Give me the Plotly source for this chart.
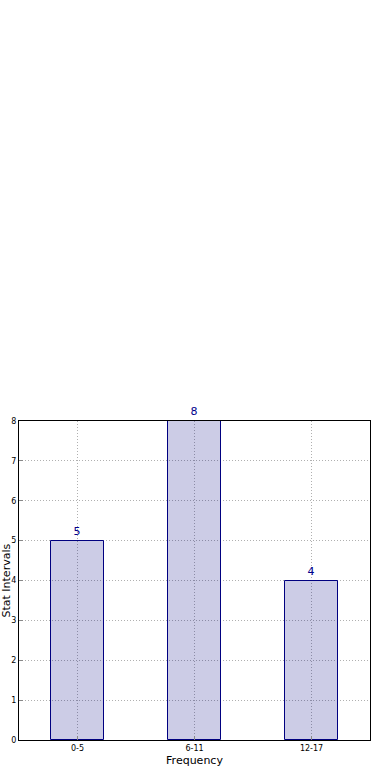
import plotly.graph_objects as go

categories = ["0-5", "6-11", "12-17"]
values = [5, 8, 4]
y_ticks = [0, 1, 2, 3, 4, 5, 6, 7, 8]

fig = go.Figure(go.Bar(
    x=list(range(len(categories))),
    y=values,
    width=0.45,
    marker=dict(color="rgba(0,0,128,0.2)", line=dict(color="#000080", width=1)),
    text=[str(v) for v in values],
    textposition="outside",
    textfont=dict(color="#00008B", size=11, family="DejaVu Sans"),
    cliponaxis=False,
))

fig.update_layout(
    width=390, height=780,
    margin=dict(l=19, r=20, t=421, b=40),
    plot_bgcolor="white", paper_bgcolor="white",
    font=dict(family="DejaVu Sans", color="black"),
    showlegend=False,
    bargap=0,
    annotations=[dict(
        text="Stat Intervals", xref="paper", yref="paper", x=-0.037, y=0.5,
        xanchor="center", yanchor="middle", textangle=-90, showarrow=False,
        font=dict(size=11, family="DejaVu Sans", color="black"),
    )],
)
fig.update_xaxes(
    tickmode="array", tickvals=list(range(len(categories))), ticktext=categories,
    range=[-0.5, 2.5], showline=True, linecolor="black", linewidth=1, mirror=True,
    showgrid=True, gridcolor="#b0b0b0", griddash="1px,2px", gridwidth=1,
    ticks="inside", ticklen=4, tickcolor="#888", tickfont=dict(size=8),
    title=dict(text="Frequency", font=dict(size=11), standoff=4),
    zeroline=False, automargin=False,
)
fig.update_yaxes(
    tickmode="array", tickvals=y_ticks, range=[0, 8],
    showline=True, linecolor="black", linewidth=1, mirror=True,
    showgrid=True, gridcolor="#b0b0b0", griddash="1px,2px", gridwidth=1,
    ticks="inside", ticklen=4, tickcolor="#888", tickfont=dict(size=8),
    zeroline=False, automargin=False,
)
fig.write_html("out.html", config={"displayModeBar": False},
               post_script="document.body.style.margin='0';")
